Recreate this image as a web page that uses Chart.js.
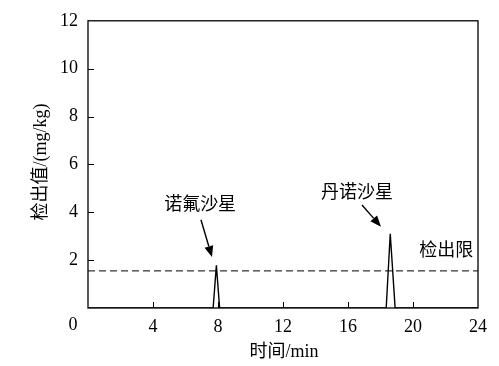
<!DOCTYPE html>
<html>
<head>
<meta charset="utf-8">
<script src="https://cdn.jsdelivr.net/npm/chart.js@4.4.1/dist/chart.umd.min.js"></script>
<style>
  html, body { margin: 0; padding: 0; background: #fff; }
  #wrap { width: 499px; height: 366px; }
</style>
</head>
<body>
<div id="wrap"><canvas id="chromChart" width="499" height="366"></canvas></div>
<script>
// tiempos (min) y valores (mg/kg) del cromatograma
const times  = [0, 7.7, 7.9, 8.1, 18.35, 18.6, 18.9, 24];
const values = [0, 0,   1.78, 0,  0,     3.1,  0,    0];
const lodValue = 1.55; // límite de detección
const xTicks = [0, 4, 8, 12, 16, 20, 24];
const yTicks = [0, 2, 4, 6, 8, 10, 12];

// Latin en serif, chino cae a Noto Sans CJK
const serif = '"Liberation Serif", "Times New Roman", "DejaVu Serif", "Noto Sans CJK SC", serif';

// Marco, marcas interiores, títulos y anotaciones
const decorPlugin = {
    id: 'decor',
    afterDraw(chart) {
        const c = chart.ctx;
        const a = chart.chartArea;
        const xs = chart.scales.x, ys = chart.scales.y;
        c.save();
        c.strokeStyle = '#000';
        c.lineWidth = 1.3;
        c.strokeRect(a.left, a.top, a.right - a.left, a.bottom - a.top);

        // marcas hacia dentro
        c.lineWidth = 1;
        c.beginPath();
        xTicks.slice(1, -1).forEach(v => {
            const px = Math.round(xs.getPixelForValue(v)) + 0.5;
            c.moveTo(px, a.bottom); c.lineTo(px, a.bottom - 6);
        });
        yTicks.slice(1, -1).forEach(v => {
            const py = Math.round(ys.getPixelForValue(v)) + 0.5;
            c.moveTo(a.left, py); c.lineTo(a.left + 6, py);
        });
        c.stroke();

        c.fillStyle = '#000';
        c.textAlign = 'center';
        c.textBaseline = 'middle';

        // cero compartido en la esquina
        c.font = '18px ' + serif;
        c.fillText('0', a.left - 15, a.bottom + 17);

        // título eje x
        c.fillText('时间/min', (a.left + a.right) / 2 + 1, 352);

        // título eje y
        c.save();
        c.translate(41, 162);
        c.rotate(-Math.PI / 2);
        c.fillText('检出值/(mg/kg)', 0, 0);
        c.restore();

        // etiquetas
        const P = (x, y) => [xs.getPixelForValue(x), ys.getPixelForValue(y)];
        let p = P(6.9, 4.3);
        c.fillText('诺氟沙星', p[0], p[1]);
        p = P(16.55, 4.8);
        c.fillText('丹诺沙星', p[0], p[1]);
        p = P(22.05, 2.35);
        c.fillText('检出限', p[0], p[1]);

        // flechas
        function arrow(x1, y1, x2, y2) {
            const [ax, ay] = P(x1, y1), [bx, by] = P(x2, y2);
            const ang = Math.atan2(by - ay, bx - ax);
            const hl = 11, hw = 4.5;
            const ex = bx - hl * Math.cos(ang), ey = by - hl * Math.sin(ang);
            c.beginPath();
            c.moveTo(ax, ay); c.lineTo(ex, ey);
            c.lineWidth = 1.4;
            c.stroke();
            c.beginPath();
            c.moveTo(bx, by);
            c.lineTo(ex + hw * Math.sin(ang), ey - hw * Math.cos(ang));
            c.lineTo(ex - hw * Math.sin(ang), ey + hw * Math.cos(ang));
            c.closePath();
            c.fill();
        }
        arrow(6.95, 3.69, 7.63, 2.13);
        arrow(16.86, 4.3, 18.03, 3.4);
        c.restore();
    }
};

const ctx = document.getElementById('chromChart').getContext('2d');

const chromChart = new Chart(ctx, {
    type: 'line',
    data: {
        datasets: [
            {
                label: 'signal',
                data: times.map((t, i) => ({ x: t, y: values[i] })),
                borderColor: '#000',
                borderWidth: 1.4,
                pointRadius: 0,
                tension: 0
            },
            {
                label: 'LOD',
                data: [{ x: 0, y: lodValue }, { x: 24, y: lodValue }],
                borderColor: '#000',
                borderWidth: 1,
                borderDash: [7, 4],
                pointRadius: 0
            }
        ]
    },
    options: {
        responsive: false,
        animation: false,
        layout: { padding: { top: 15, right: 21, left: 0, bottom: 0 } },
        plugins: {
            legend: { display: false },
            tooltip: { enabled: false }
        },
        scales: {
            x: {
                type: 'linear',
                min: 0, max: 24,
                afterFit(s) { s.height = 58; },
                afterBuildTicks(s) { s.ticks = xTicks.map(v => ({ value: v })); },
                grid: { display: false, drawTicks: false },
                border: { display: false },
                ticks: {
                    padding: 8,
                    color: '#000',
                    font: { family: serif, size: 18 },
                    callback: v => (v === 0 ? '' : v)
                }
            },
            y: {
                min: 0, max: 12,
                afterFit(s) { s.width = 88; },
                afterBuildTicks(s) { s.ticks = yTicks.map(v => ({ value: v })); },
                grid: { display: false, drawTicks: false },
                border: { display: false },
                ticks: {
                    padding: 10,
                    color: '#000',
                    font: { family: serif, size: 18 },
                    callback: v => (v === 0 ? '' : v)
                }
            }
        }
    },
    plugins: [decorPlugin]
});
</script>
</body>
</html>
